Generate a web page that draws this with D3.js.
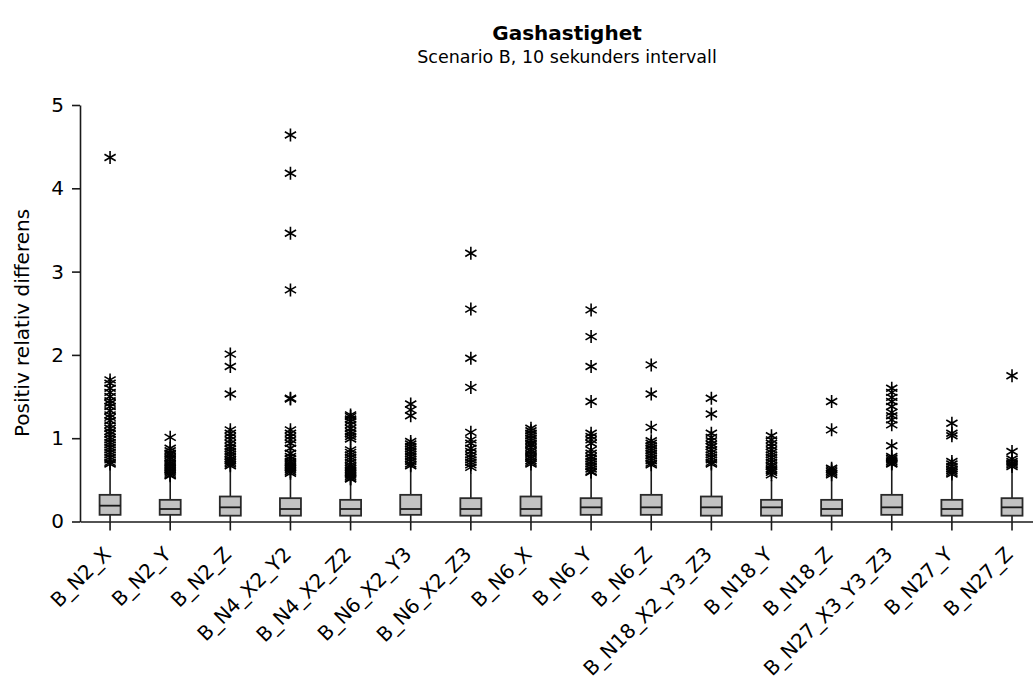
<!DOCTYPE html>
<html>
<head>
<meta charset="utf-8">
<script src="https://cdn.jsdelivr.net/npm/d3@7"></script>
<style>
  html, body { margin: 0; padding: 0; background: #fff; }
  svg { display: block; font-family: "DejaVu Sans", Verdana, sans-serif; }
</style>
</head>
<body>
<svg id="chart" width="1033" height="695"></svg>
<script>
// Group names along the x axis
const categories = [
  "B_N2_X", "B_N2_Y", "B_N2_Z", "B_N4_X2_Y2", "B_N4_X2_Z2", "B_N6_X2_Y3",
  "B_N6_X2_Z3", "B_N6_X", "B_N6_Y", "B_N6_Z", "B_N18_X2_Y3_Z3", "B_N18_Y",
  "B_N18_Z", "B_N27_X3_Y3_Z3", "B_N27_Y", "B_N27_Z"
];

// Box statistics per group
const q1 =        [0.08, 0.08, 0.07, 0.07, 0.07, 0.08, 0.07, 0.07, 0.08, 0.08, 0.07, 0.07, 0.07, 0.08, 0.07, 0.07];
const medians =   [0.19, 0.15, 0.17, 0.15, 0.15, 0.15, 0.15, 0.15, 0.17, 0.17, 0.17, 0.17, 0.15, 0.17, 0.15, 0.17];
const q3 =        [0.32, 0.26, 0.30, 0.28, 0.26, 0.32, 0.28, 0.30, 0.28, 0.32, 0.30, 0.26, 0.26, 0.32, 0.26, 0.28];
const whiskerLo = [0.00, 0.00, 0.00, 0.00, 0.00, 0.00, 0.00, 0.00, 0.00, 0.00, 0.00, 0.00, 0.00, 0.00, 0.00, 0.00];
const whiskerHi = [0.64, 0.50, 0.62, 0.54, 0.46, 0.62, 0.58, 0.63, 0.54, 0.62, 0.64, 0.50, 0.50, 0.64, 0.52, 0.62];

// Outlying observations per group
const outliers = [
  [4.37, 1.70, 1.66, 1.60, 1.55, 1.50, 1.45, 1.42, 1.38, 1.33, 1.28, 1.25, 1.21, 1.16, 1.12, 1.08, 1.05, 1.01, 0.98, 0.95, 0.92, 0.89, 0.86, 0.83, 0.80, 0.77, 0.74, 0.71, 0.69],
  [1.01, 0.88, 0.85, 0.82, 0.80, 0.77, 0.75, 0.72, 0.70, 0.68, 0.66, 0.64, 0.62, 0.60, 0.58, 0.56, 0.55],
  [2.01, 1.86, 1.53, 1.10, 1.06, 1.02, 0.98, 0.94, 0.90, 0.87, 0.84, 0.81, 0.78, 0.75, 0.73, 0.71, 0.69, 0.67],
  [4.64, 4.18, 3.46, 2.78, 1.48, 1.47, 1.10, 1.06, 1.02, 0.98, 0.94, 0.88, 0.82, 0.78, 0.75, 0.72, 0.70, 0.68, 0.66, 0.64, 0.62, 0.60, 0.58],
  [1.28, 1.26, 1.23, 1.20, 1.16, 1.12, 1.08, 1.05, 1.02, 0.99, 0.86, 0.83, 0.80, 0.77, 0.74, 0.71, 0.68, 0.66, 0.64, 0.62, 0.60, 0.58, 0.56, 0.54, 0.52, 0.51],
  [1.41, 1.34, 1.27, 0.96, 0.93, 0.90, 0.87, 0.84, 0.81, 0.78, 0.75, 0.72, 0.69, 0.67],
  [3.22, 2.55, 1.96, 1.61, 1.07, 0.98, 0.94, 0.88, 0.84, 0.80, 0.77, 0.74, 0.71, 0.68, 0.65],
  [1.12, 1.09, 1.06, 1.03, 1.00, 0.97, 0.94, 0.92, 0.89, 0.86, 0.84, 0.81, 0.78, 0.76, 0.73, 0.71, 0.69],
  [2.54, 2.22, 1.86, 1.44, 1.06, 1.02, 0.98, 0.94, 0.86, 0.82, 0.78, 0.75, 0.72, 0.69, 0.66, 0.63, 0.60, 0.59],
  [1.88, 1.53, 1.13, 0.97, 0.94, 0.91, 0.88, 0.85, 0.82, 0.79, 0.76, 0.73, 0.70, 0.68],
  [1.48, 1.29, 1.06, 1.01, 0.97, 0.93, 0.90, 0.86, 0.83, 0.80, 0.77, 0.74, 0.71, 0.69],
  [1.03, 0.98, 0.94, 0.90, 0.86, 0.83, 0.80, 0.77, 0.74, 0.71, 0.68, 0.66, 0.63, 0.61, 0.59, 0.56],
  [1.44, 1.10, 0.64, 0.62, 0.60, 0.58, 0.56],
  [1.60, 1.55, 1.49, 1.44, 1.38, 1.31, 1.27, 1.22, 1.16, 0.91, 0.78, 0.76, 0.74, 0.72, 0.70, 0.69],
  [1.18, 1.06, 1.03, 0.72, 0.69, 0.66, 0.63, 0.61, 0.59, 0.57],
  [1.75, 0.84, 0.75, 0.72, 0.70, 0.68, 0.66]
];

const yTicks = [0, 1, 2, 3, 4, 5];

const titleText = "Gashastighet";
const subtitleText = "Scenario B, 10 sekunders intervall";
const yLabelText = "Positiv relativ differens";

const svg = d3.select("#chart");
const plotLeft = 80, plotTop = 105, plotBottom = 521.5, step = 60.13;

const x = d3.scaleBand()
  .domain(categories)
  .range([plotLeft, plotLeft + step * categories.length])
  .paddingInner(0).paddingOuter(0);

const y = d3.scaleLinear().domain([0, 5]).range([plotBottom, plotTop]);

svg.append("rect").attr("width", 1033).attr("height", 695).attr("fill", "#fff");

// Titles
svg.append("text")
  .attr("x", 567).attr("y", 40)
  .attr("text-anchor", "middle")
  .attr("font-size", 20).attr("font-weight", "bold")
  .attr("fill", "#000")
  .text(titleText);

svg.append("text")
  .attr("x", 567).attr("y", 63)
  .attr("text-anchor", "middle")
  .attr("font-size", 17.5)
  .attr("fill", "#000")
  .text(subtitleText);

// Y axis label
svg.append("text")
  .attr("transform", "translate(29, 323) rotate(-90)")
  .attr("text-anchor", "middle")
  .attr("font-size", 20)
  .attr("fill", "#000")
  .text(yLabelText);

// Axes
const yAxis = svg.append("g")
  .attr("transform", `translate(${plotLeft},0)`)
  .call(d3.axisLeft(y).tickValues(yTicks).tickFormat(d3.format("d"))
    .tickSize(8).tickSizeOuter(0).tickPadding(8));

const xAxis = svg.append("g")
  .attr("transform", `translate(0,${plotBottom})`)
  .call(d3.axisBottom(x).tickSize(9).tickSizeOuter(0));

[yAxis, xAxis].forEach(g => {
  g.selectAll("path, line").attr("stroke", "#1a1a1a").attr("stroke-width", 1.6);
  g.selectAll("text").attr("fill", "#000").attr("font-family", "DejaVu Sans, Verdana, sans-serif");
});
yAxis.selectAll("text").attr("font-size", 20);

xAxis.selectAll("text")
  .attr("font-size", 20)
  .attr("text-anchor", "end")
  .attr("dy", 0)
  .attr("y", 0)
  .attr("transform", "translate(2,34) rotate(-45)");

// Boxes
const boxW = 21;
const groups = svg.append("g").selectAll("g")
  .data(categories)
  .join("g")
  .attr("transform", d => `translate(${x(d) + x.bandwidth() / 2},0)`);

groups.append("line")
  .attr("x1", 0).attr("x2", 0)
  .attr("y1", (d, i) => y(whiskerLo[i]))
  .attr("y2", (d, i) => y(whiskerHi[i]))
  .attr("stroke", "#1a1a1a").attr("stroke-width", 1.6);

groups.append("rect")
  .attr("x", -boxW / 2).attr("width", boxW)
  .attr("y", (d, i) => y(q3[i]))
  .attr("height", (d, i) => y(q1[i]) - y(q3[i]))
  .attr("fill", "#c2c2c2")
  .attr("stroke", "#2a2a2a").attr("stroke-width", 1.8);

groups.append("line")
  .attr("x1", -boxW / 2).attr("x2", boxW / 2)
  .attr("y1", (d, i) => y(medians[i]))
  .attr("y2", (d, i) => y(medians[i]))
  .attr("stroke", "#1a1a1a").attr("stroke-width", 1.8);

// Asterisk marks for outliers
const star = "M0,-6.5L0,6.5M-5.6,-3.25L5.6,3.25M-5.6,3.25L5.6,-3.25";
groups.each(function (d, i) {
  d3.select(this).selectAll("path.out")
    .data(outliers[i])
    .join("path")
    .attr("class", "out")
    .attr("d", star)
    .attr("transform", v => `translate(0,${y(v)})`)
    .attr("fill", "none")
    .attr("stroke", "#000").attr("stroke-width", 1.6);
});
</script>
</body>
</html>
